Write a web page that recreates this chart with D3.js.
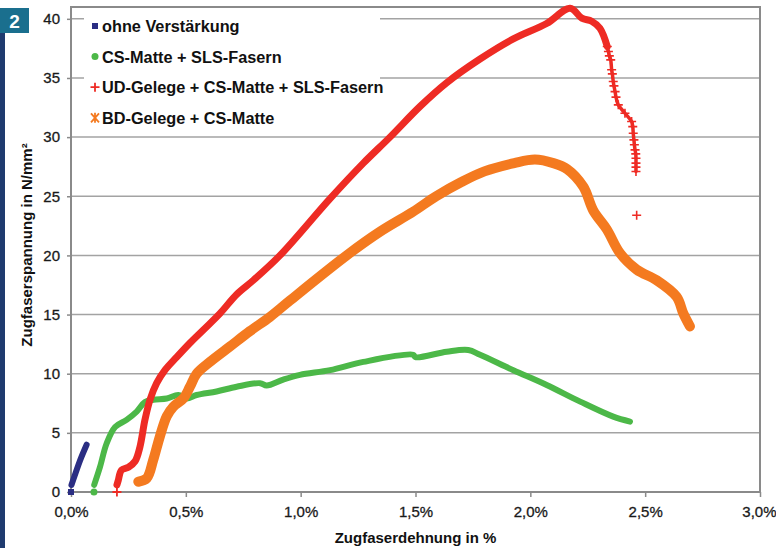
<!DOCTYPE html>
<html><head><meta charset="utf-8">
<script src="https://cdn.jsdelivr.net/npm/d3@7"></script>
<style>body{margin:0;background:#fff}svg{display:block}</style>
</head><body>
<svg id="c" width="776" height="548"></svg>
<script>
// ---- data ----
const xTicks = [0, 0.5, 1.0, 1.5, 2.0, 2.5, 3.0];
const xTickLabels = ["0,0%", "0,5%", "1,0%", "1,5%", "2,0%", "2,5%", "3,0%"];
const yTicks = [0, 5, 10, 15, 20, 25, 30, 35, 40];
const seriesNames = ["ohne Verstärkung", "CS-Matte + SLS-Fasern", "UD-Gelege + CS-Matte + SLS-Fasern", "BD-Gelege + CS-Matte"];
const xTitle = "Zugfaserdehnung in %";
const yTitle = "Zugfaserspannung in N/mm²";
const badge = "2";

const navyStrain = [0.0, 0.002, 0.02, 0.04, 0.068];
const navyStress = [0.0, 0.6, 1.6, 2.7, 4.0];

const greenStrain = [0.1, 0.101, 0.126, 0.155, 0.192, 0.242, 0.286, 0.322, 0.358, 0.417, 0.467, 0.504, 0.547, 0.634, 0.721, 0.823, 0.852, 0.924, 0.997, 1.128, 1.273, 1.49, 1.50, 1.636, 1.73, 1.781, 1.926, 2.071, 2.217, 2.361, 2.434];
const greenStress = [0.0, 0.6, 2.1, 4.1, 5.5, 6.1, 6.8, 7.6, 7.8, 7.9, 8.2, 7.9, 8.2, 8.5, 8.9, 9.2, 9.0, 9.5, 9.9, 10.3, 11.0, 11.6, 11.4, 11.86, 12.0, 11.6, 10.3, 9.05, 7.64, 6.37, 5.95];

const redStrain = [0.2, 0.2, 0.206, 0.22, 0.25, 0.279, 0.30, 0.322, 0.344, 0.373, 0.409, 0.46, 0.518, 0.576, 0.649, 0.721, 0.794, 0.91, 1.128, 1.273, 1.389, 1.52, 1.636, 1.781, 1.926, 2.071, 2.173, 2.224, 2.267, 2.303, 2.335];
const redStress = [0.0, 0.6, 1.0, 1.86, 2.1, 2.6, 3.8, 6.1, 7.8, 9.2, 10.3, 11.4, 12.6, 13.7, 15.1, 16.7, 17.9, 20.0, 24.8, 27.8, 30.0, 32.6, 34.6, 36.6, 38.3, 39.6, 40.9, 40.06, 39.8, 39.2, 37.66];
const redTailStrain = [2.335, 2.340, 2.344, 2.350, 2.354, 2.357, 2.361, 2.364, 2.369, 2.373, 2.383, 2.412, 2.441, 2.446, 2.448, 2.451, 2.453, 2.456, 2.459, 2.460, 2.460, 2.460, 2.460, 2.463];
const redTailStress = [37.66, 37.24, 36.87, 36.53, 35.69, 35.35, 34.70, 34.33, 33.85, 33.38, 32.73, 32.02, 31.32, 30.89, 30.33, 29.77, 29.35, 28.92, 28.58, 28.22, 27.80, 27.46, 27.09, 23.4];

const orangeStrain = [0.293, 0.33, 0.358, 0.387, 0.417, 0.445, 0.489, 0.518, 0.547, 0.605, 0.692, 0.779, 0.866, 0.954, 1.2, 1.345, 1.49, 1.59, 1.70, 1.80, 1.93, 2.02, 2.10, 2.16, 2.231, 2.274, 2.333, 2.39, 2.463, 2.55, 2.637, 2.666, 2.695];
const orangeStress = [0.87, 1.16, 2.7, 4.7, 6.4, 7.2, 7.9, 8.9, 10.0, 11.0, 12.3, 13.6, 14.8, 16.2, 20.0, 22.0, 23.7, 25.0, 26.2, 27.1, 27.8, 28.1, 27.8, 27.3, 25.8, 23.8, 22.2, 20.2, 18.8, 17.9, 16.5, 15.1, 14.0];

const colors = ["#2b2e83", "#4cb848", "#ee2b24", "#f47a20"];

// ---- drawing ----
const svg = d3.select("#c");
const x = d3.scaleLinear().domain([0, 3]).range([71, 760]);
const y = d3.scaleLinear().domain([0, 41]).range([492, 7]);
const zip = (a, b) => a.map((v, i) => [v, b[i]]);
const FONT = "Liberation Sans, Arial, sans-serif";

// side strip and badge
svg.append("rect").attr("x", 0).attr("y", 33).attr("width", 5).attr("height", 515).attr("fill", "#1f3b6f");
svg.append("rect").attr("x", 0).attr("y", 8).attr("width", 29).attr("height", 25).attr("fill", "#1a6f8e");
svg.append("text").attr("x", 14.5).attr("y", 28).attr("text-anchor", "middle")
  .attr("font-family", FONT).attr("font-weight", "bold")
  .attr("font-size", 19).attr("fill", "#fff").text(badge);

// gridlines
svg.append("g").selectAll("line").data(yTicks.filter(d => d > 0)).join("line")
  .attr("x1", x(0)).attr("x2", x(3)).attr("y1", d => y(d)).attr("y2", d => y(d))
  .attr("stroke", "#a3a3a3").attr("stroke-width", 1.5);

// axes
const yAxis = d3.axisLeft(y).tickValues(yTicks).tickSize(4).tickPadding(7).tickFormat(d => String(d));
const gy = svg.append("g").attr("transform", `translate(${x(0)},0)`).call(yAxis);
const xAxis = d3.axisBottom(x).tickValues(xTicks).tickSize(5).tickPadding(9).tickFormat((d, i) => xTickLabels[i]);
const gx = svg.append("g").attr("transform", `translate(0,${y(0)})`).call(xAxis);
[gx, gy].forEach(g => {
  g.select(".domain").remove();
  g.selectAll(".tick line").attr("stroke", "#8a8a8a").attr("stroke-width", 1.5);
  g.selectAll(".tick text").attr("font-family", FONT)
    .attr("font-size", 15).attr("fill", "#1a1a1a").attr("stroke", "#1a1a1a").attr("stroke-width", 0.3);
});
gx.selectAll(".tick text").filter((d, i) => i === xTicks.length - 1).attr("text-anchor", "end").attr("dx", 16);

// frame
svg.append("rect").attr("x", x(0)).attr("y", y(41)).attr("width", x(3) - x(0)).attr("height", y(0) - y(41))
  .attr("fill", "none").attr("stroke", "#8a8a8a").attr("stroke-width", 2);

// legend background (covers gridlines)
svg.append("rect").attr("x", 84).attr("y", 9).attr("width", 296).attr("height", 122).attr("fill", "#fff");

// series lines
const line = d3.line().x(d => x(d[0])).y(d => y(d[1])).curve(d3.curveCatmullRom.alpha(0.5));
const lw = [6, 6, 7, 10];
const pts = [zip(navyStrain, navyStress), zip(greenStrain, greenStress), zip(redStrain, redStress), zip(orangeStrain, orangeStress)];
pts.forEach((p, i) => {
  const body = p.filter(d => d[1] > 0);
  svg.append("path").attr("d", line(body)).attr("fill", "none").attr("stroke", colors[i])
    .attr("stroke-width", lw[i]).attr("stroke-linecap", "round").attr("stroke-linejoin", "round");
  if (i === 2) {
    const tail = zip(redTailStrain, redTailStress);
    svg.append("path").attr("d", line(tail.slice(0, -1))).attr("fill", "none").attr("stroke", colors[2])
      .attr("stroke-width", 3.5).attr("stroke-linecap", "round");
    svg.append("g").selectAll("path").data(tail).join("path")
      .attr("d", d => `M${x(d[0]) - 4.5},${y(d[1])}h9M${x(d[0])},${y(d[1]) - 4.5}v9`)
      .attr("stroke", colors[2]).attr("stroke-width", 1.6).attr("fill", "none");
  }
});

// markers
const marker = (g, type, cx, cy, c) => {
  if (type === 0) g.append("rect").attr("x", cx - 3).attr("y", cy - 3).attr("width", 6).attr("height", 6).attr("fill", c);
  else if (type === 1) g.append("circle").attr("cx", cx).attr("cy", cy).attr("r", 3.5).attr("fill", c);
  else if (type === 2) g.append("path").attr("d", `M${cx - 4.5},${cy}h9M${cx},${cy - 4.5}v9`).attr("stroke", c).attr("stroke-width", 1.8);
  else g.append("path").attr("d", `M${cx - 4},${cy - 4.5}L${cx + 4},${cy + 4.5}M${cx + 4},${cy - 4.5}L${cx - 4},${cy + 4.5}M${cx},${cy - 5}v10`)
    .attr("stroke", c).attr("stroke-width", 1.8).attr("fill", "none");
};
const mg = svg.append("g");
marker(mg, 0, x(navyStrain[0]), y(navyStress[0]), colors[0]);
marker(mg, 1, x(greenStrain[0]), y(greenStress[0]), colors[1]);
marker(mg, 2, x(redStrain[0]), y(redStress[0]), colors[2]);

// legend
const lg = svg.append("g");
seriesNames.forEach((n, i) => {
  const cy = 26 + i * 30.6;
  marker(lg, i, 95, cy, colors[i]);
  lg.append("text").attr("x", 102).attr("y", cy + 6)
    .attr("font-family", FONT).attr("font-weight", "bold")
    .attr("font-size", 16.3).attr("fill", "#111").text(n);
});

// titles
svg.append("text").attr("x", (x(0) + x(3)) / 2).attr("y", 543).attr("text-anchor", "middle")
  .attr("font-family", FONT).attr("font-weight", "bold")
  .attr("font-size", 15).attr("fill", "#111").text(xTitle);
svg.append("text").attr("transform", "translate(32,245) rotate(-90)").attr("text-anchor", "middle")
  .attr("font-family", FONT).attr("font-weight", "bold")
  .attr("font-size", 15).attr("fill", "#111").text(yTitle);
</script>
</body></html>
